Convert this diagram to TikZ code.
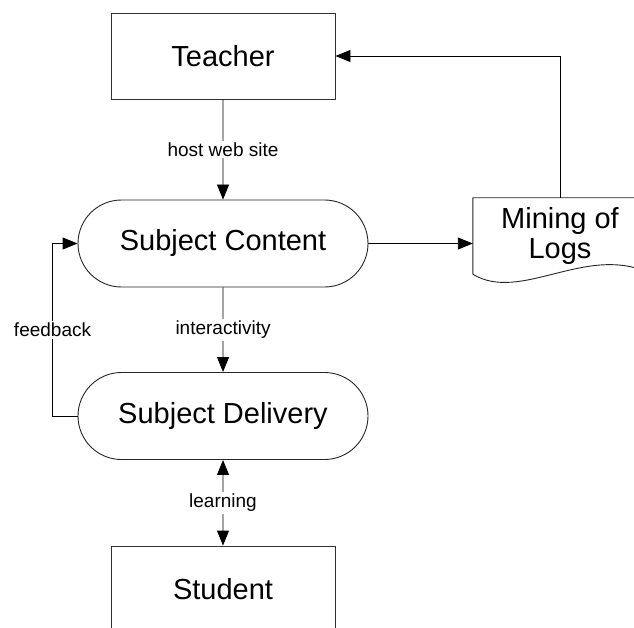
\documentclass[tikz,border=0pt]{standalone}
\usepackage{fontspec}
\setmainfont{Liberation Sans}
\usetikzlibrary{shapes.misc,arrows.meta}
\begin{document}
\begin{tikzpicture}[x=1pt,y=-1pt,
  box/.style={draw=black!80,line width=0.9pt,minimum width=224pt,minimum height=86pt,inner sep=0pt,font=\fontsize{29}{31}\selectfont},
  stadium/.style={draw=black!85,line width=0.9pt,rounded rectangle,minimum width=290pt,minimum height=87pt,inner sep=0pt,font=\fontsize{29}{31}\selectfont},
  conn/.style={line width=0.9pt,-{Triangle[length=15pt,width=12pt]}},
  lbl/.style={fill=white,inner sep=2pt,font=\fontsize{19}{21}\selectfont}]
\clip (0,0) rectangle (634,628);
\fill[white] (0,0) rectangle (634,628);
\node[box] (teacher) at (223,56) {Teacher};
\node[stadium] (content) at (223,243.5) {Subject Content};
\node[stadium] (delivery) at (223,416) {Subject Delivery};
\node[box] (student) at (223,589) {Student};
\node[minimum width=174pt,minimum height=76pt,inner sep=0pt,align=center,font=\fontsize{29}{30}\selectfont] (mining) at (560,236) {Mining of\\Logs};
\draw[black!85,line width=0.9pt] (mining.south west) -- (mining.north west) -- (mining.north east) -- (mining.east |- 0,272)
  (mining.south west) .. controls (520,303) and (585,245) .. (647,272);
\draw[conn] (teacher) -- node[lbl] {host web site} (content);
\draw[conn] (content) -- node[lbl] {interactivity} (delivery);
\draw[conn,{Triangle[length=15pt,width=12pt]}-{Triangle[length=15pt,width=12pt]}] (delivery) -- node[lbl] {learning} (student);
\draw[conn] (delivery.west) -- ++(-25,0) coordinate (fb) -- node[lbl] {feedback} (fb |- content.west) -- (content.west);
\draw[conn] (content.east) -- (content.east -| mining.west);
\draw[conn] (mining.north) |- (teacher.east);
\end{tikzpicture}
\end{document}
